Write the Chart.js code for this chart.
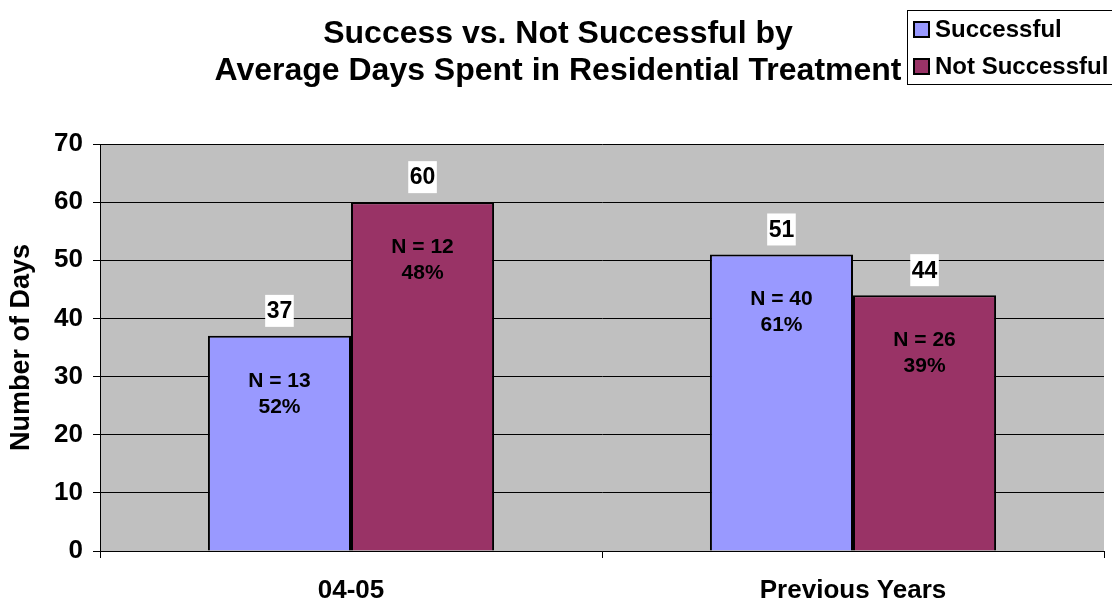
<!DOCTYPE html>
<html>
<head>
<meta charset="utf-8">
<script src="https://cdn.jsdelivr.net/npm/chart.js"></script>
<style>
  html, body { margin: 0; padding: 0; background: #ffffff; }
  #daysChart { display: block; }
</style>
</head>
<body>
<canvas id="daysChart" width="1112" height="603"></canvas>
<script>
// Average days in residential treatment, by outcome
const periods = ['04-05', 'Previous Years'];
const successfulDays = [37, 51];
const notSuccessfulDays = [60, 44];
const successfulCounts = ['N = 13', 'N = 40'];
const notSuccessfulCounts = ['N = 12', 'N = 26'];
const successfulShares = ['52%', '61%'];
const notSuccessfulShares = ['48%', '39%'];
const yTicks = [0, 10, 20, 30, 40, 50, 60, 70];

const FONT = '"Liberation Sans", Arial, sans-serif';

const chartDecor = {
    id: 'chartDecor',
    beforeDraw(chart) {
        // grey plot area
        const { ctx, chartArea: a } = chart;
        ctx.save();
        ctx.fillStyle = '#c0c0c0';
        ctx.fillRect(a.left, a.top, a.right - a.left, a.bottom - a.top);
        ctx.restore();
    },
    afterDraw(chart) {
        const ctx = chart.ctx;
        ctx.save();

        // title, two lines
        ctx.fillStyle = '#000';
        ctx.textAlign = 'center';
        ctx.textBaseline = 'middle';
        ctx.font = 'bold 32px ' + FONT;
        ctx.fillText('Success vs. Not Successful by', 558, 34);
        ctx.fillText('Average Days Spent in Residential Treatment', 558, 71);

        // value labels and N / percent labels
        chart.data.datasets.forEach((ds, di) => {
            const meta = chart.getDatasetMeta(di);
            meta.data.forEach((bar, i) => {
                const txt = String(ds.data[i]);
                ctx.font = 'bold 23px ' + FONT;
                const w = ctx.measureText(txt).width + 3;
                const cy = bar.y - 25;
                ctx.fillStyle = '#ffffff';
                ctx.fillRect(bar.x - w / 2, cy - 16, w, 32);
                ctx.fillStyle = '#000';
                ctx.fillText(txt, bar.x, cy + 1);

                ctx.font = 'bold 21px ' + FONT;
                ctx.fillText(ds.counts[i], bar.x, bar.y + 45);
                ctx.fillText(ds.shares[i], bar.x, bar.y + 71);
            });
        });

        // legend box
        const lx = 907, ly = 10, lw = 210, lh = 75;
        ctx.fillStyle = '#ffffff';
        ctx.fillRect(lx, ly, lw, lh);
        ctx.strokeStyle = '#000';
        ctx.lineWidth = 1;
        ctx.strokeRect(lx + 0.5, ly + 0.5, lw - 1, lh - 1);
        ctx.textAlign = 'left';
        ctx.font = 'bold 24px ' + FONT;
        chart.data.datasets.forEach((ds, di) => {
            const y = 29 + di * 37;
            ctx.fillStyle = ds.backgroundColor;
            ctx.fillRect(914, y - 7, 15, 15);
            ctx.lineWidth = 2;
            ctx.strokeRect(914, y - 7, 15, 15);
            ctx.fillStyle = '#000';
            ctx.fillText(ds.label, 935, y + 1);
        });

        ctx.restore();
    }
};

new Chart(document.getElementById('daysChart').getContext('2d'), {
    type: 'bar',
    data: {
        labels: periods,
        datasets: [
            {
                label: 'Successful',
                data: successfulDays,
                counts: successfulCounts,
                shares: successfulShares,
                backgroundColor: '#9999ff',
                borderColor: '#000000',
                borderWidth: 2,
                borderSkipped: 'bottom'
            },
            {
                label: 'Not Successful',
                data: notSuccessfulDays,
                counts: notSuccessfulCounts,
                shares: notSuccessfulShares,
                backgroundColor: '#993366',
                borderColor: '#000000',
                borderWidth: 2,
                borderSkipped: 'bottom'
            }
        ]
    },
    options: {
        responsive: false,
        animation: false,
        layout: { padding: { top: 144, right: 8, left: 0, bottom: 0 } },
        plugins: {
            legend: { display: false },
            title: { display: false },
            tooltip: { enabled: false }
        },
        datasets: {
            bar: { barPercentage: 1.0, categoryPercentage: 0.57 }
        },
        scales: {
            x: {
                afterFit(scale) { scale.height = 52; },
                grid: {
                    offset: true,
                    drawOnChartArea: false,
                    tickLength: 7,
                    color: '#000'
                },
                border: { color: '#000', width: 1 },
                ticks: {
                    color: '#000',
                    padding: 17,
                    font: { family: FONT, size: 26, weight: 'bold' }
                }
            },
            y: {
                min: 0,
                max: 70,
                afterFit(scale) { scale.width = 100; },
                afterBuildTicks(scale) {
                    scale.ticks = yTicks.map(v => ({ value: v }));
                },
                grid: {
                    color: '#000',
                    tickLength: 7,
                    lineWidth: 1
                },
                border: { color: '#000', width: 1 },
                ticks: {
                    color: '#000',
                    padding: 10,
                    font: { family: FONT, size: 26, weight: 'bold' }
                },
                title: {
                    display: true,
                    text: 'Number of Days',
                    color: '#000',
                    padding: { top: 5, bottom: 0 },
                    font: { family: FONT, size: 27, weight: 'bold' }
                }
            }
        }
    },
    plugins: [chartDecor]
});
</script>
</body>
</html>
